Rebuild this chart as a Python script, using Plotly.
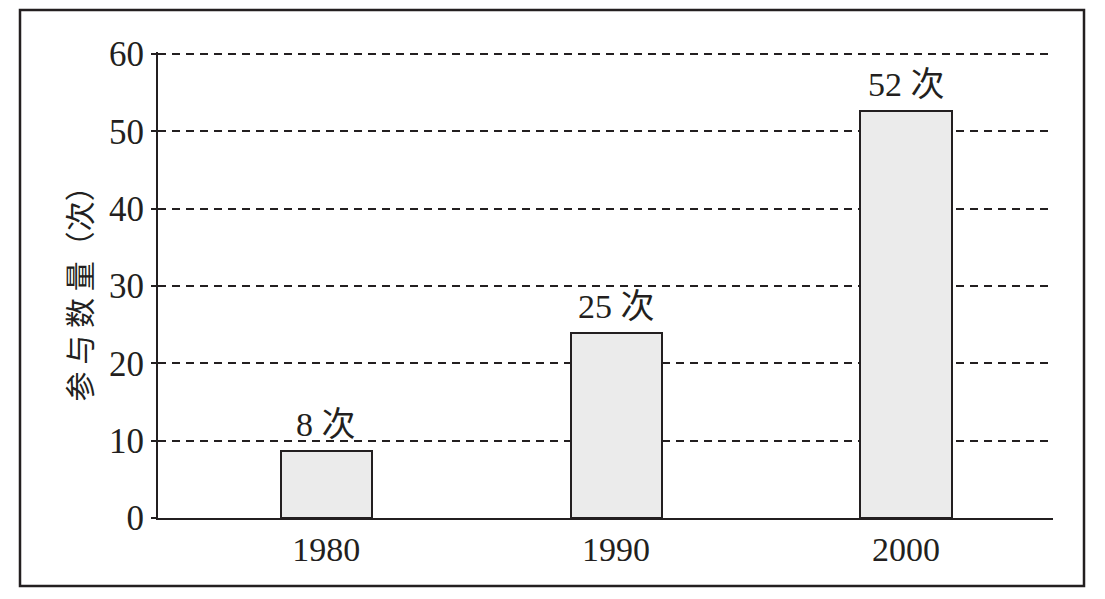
import plotly.graph_objects as go

years = ["1980", "1990", "2000"]
bar_values = [8.7, 23.9, 52.6]
bar_labels = ["8 次", "25 次", "52 次"]
y_ticks = [0, 10, 20, 30, 40, 50, 60]
y_title = "参 与 数 量（次）"

INK = "#231f20"
SERIF = "Liberation Serif, Noto Sans CJK SC, serif"

# plot area in pixels
L, R, T, B = 158, 1053, 52, 518
PW, PH = R - L, B - T
Y_TOP = 60 * PH / (518 - 54)

fig = go.Figure()
fig.add_trace(go.Bar(
    x=list(range(len(years))),
    y=bar_values,
    width=0.314,
    marker=dict(color="#ebebeb", line=dict(color=INK, width=2)),
    showlegend=False,
    hoverinfo="skip",
))

for i, (v, lab) in enumerate(zip(bar_values, bar_labels)):
    fig.add_annotation(
        x=i, y=v, text=lab, showarrow=False,
        xanchor="center", yanchor="bottom", yshift=6,
        font=dict(family=SERIF, size=34, color=INK),
    )

fig.update_layout(
    width=1105, height=599,
    margin=dict(l=L, r=1105 - R, t=T, b=599 - B),
    paper_bgcolor="white", plot_bgcolor="white",
    bargap=0,
    xaxis=dict(
        range=[-0.58, 2.507],
        tickmode="array", tickvals=list(range(len(years))), ticktext=years,
        showgrid=False, zeroline=False,
        showline=True, linecolor=INK, linewidth=2,
        ticks="",
        tickfont=dict(family=SERIF, size=34, color=INK),
    ),
    yaxis=dict(
        range=[0, Y_TOP],
        tickmode="array", tickvals=y_ticks,
        showgrid=True, gridcolor=INK, gridwidth=2, griddash="8px,6px",
        zeroline=False,
        showline=True, linecolor=INK, linewidth=2,
        ticks="outside", ticklen=5, tickwidth=2, tickcolor=INK,
        tickfont=dict(family=SERIF, size=35, color=INK),
    ),
)

fig.add_annotation(
    text=y_title, xref="paper", yref="paper",
    x=(77.5 - L) / PW, y=(B - 287) / PH, xanchor="center", yanchor="middle",
    textangle=-90, showarrow=False,
    font=dict(family="Noto Sans CJK SC, sans-serif", size=30, color=INK),
)

fig.add_shape(
    type="rect", xref="paper", yref="paper",
    x0=(20 - L) / PW, x1=(1084 - L) / PW, y0=(B - 586) / PH, y1=(B - 10) / PH,
    line=dict(color=INK, width=2.5), fillcolor="rgba(0,0,0,0)", layer="above",
)

fig.write_html(
    "out.html",
    config={"displayModeBar": False},
    post_script="document.body.style.margin='0';document.body.style.overflow='hidden';",
)
